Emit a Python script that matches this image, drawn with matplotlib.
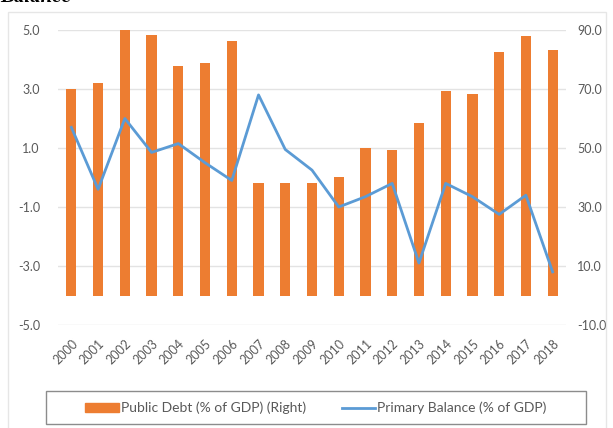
import numpy as np
import matplotlib
matplotlib.use('Agg')
import matplotlib.pyplot as plt
import matplotlib.patches as mpatches
import matplotlib.lines as mlines

years = [str(y) for y in range(2000, 2019)]
# public debt, % of GDP (right axis)
public_debt = [70.0, 72.1, 90.2, 88.3, 77.9, 78.7, 86.3, 38.0, 38.0, 38.0,
               40.2, 50.0, 49.3, 58.6, 69.4, 68.3, 82.4, 88.0, 83.2]
# primary balance, % of GDP (left axis)
primary_balance = [1.7, -0.4, 2.0, 0.85, 1.15, 0.5, -0.1, 2.8, 0.95, 0.25,
                   -1.0, -0.65, -0.2, -2.9, -0.2, -0.65, -1.25, -0.6, -3.2]

left_ticks = [-5.0, -3.0, -1.0, 1.0, 3.0, 5.0]
right_ticks = [-10.0, 10.0, 30.0, 50.0, 70.0, 90.0]

ORANGE = '#ED7D31'
BLUE = '#5B9BD5'
GREY_TXT = '#595959'

plt.rcParams['font.family'] = ['Lato', 'DejaVu Sans']

fig = plt.figure(figsize=(6.13, 4.28), dpi=100)
ax = fig.add_axes([58/613, 1 - 325/428, (566 - 58)/613, (325 - 30)/428])
ax2 = ax.twinx()

x = np.arange(len(years))

# bars on the right axis, drawn below the line
ax2.bar(x, public_debt, width=0.38, color=ORANGE, zorder=2)
ax2.set_ylim(-10, 90)
ax2.set_yticks(right_ticks)
ax2.set_yticklabels(['%.1f' % t for t in right_ticks])
ax2.grid(True, axis='y', color='#e3e3e3', lw=1, zorder=0)
ax2.set_axisbelow(True)

ax.plot(x, primary_balance, '-', color=BLUE, lw=2, zorder=3)
ax.set_ylim(-5, 5)
ax.set_yticks(left_ticks)
ax.set_yticklabels(['%.1f' % t for t in left_ticks])
ax.set_xlim(-0.5, len(years) - 0.5)
ax.set_xticks(x)
ax.set_xticklabels(years, rotation=45, ha='right', va='top',
                   rotation_mode='anchor')

ax.set_zorder(ax2.get_zorder() + 1)
ax.patch.set_visible(False)

for a in (ax, ax2):
    for s in a.spines.values():
        s.set_visible(False)
    a.tick_params(axis='both', which='both', length=0, labelsize=9,
                  labelcolor=GREY_TXT)
ax.tick_params(axis='y', pad=13)
ax.tick_params(axis='x', pad=9)
ax2.tick_params(axis='y', pad=8)

# outer chart frame
fig.patches.append(mpatches.Rectangle((8/613, -0.01), (606 - 8)/613, 1 - 12/428 + 0.01,
                                      transform=fig.transFigure, fill=False,
                                      edgecolor='#e6e6e6', lw=1))

# legend box
fig.patches.append(mpatches.Rectangle((46/613, 1 - 424/428), (586 - 46)/613, 33/428,
                                      transform=fig.transFigure, fill=False,
                                      edgecolor='#8c8c8c', lw=1))
orange_patch = mpatches.Patch(color=ORANGE, label='Public Debt (% of GDP) (Right)')
blue_line = mlines.Line2D([], [], lw=2, color=BLUE, label='Primary Balance (% of GDP)')
fig.legend(handles=[orange_patch, blue_line], loc='center',
           bbox_to_anchor=(316/613, 1 - 408/428), ncol=2, frameon=False,
           prop={'size': 10}, handlelength=2.4, handleheight=0.65,
           columnspacing=2.6, handletextpad=0.15, labelcolor=GREY_TXT)

# cropped title at the top
fig.text(0.0, 1 - 2/428, 'Balance', fontsize=15, fontweight='bold',
         fontstyle='italic', family='Liberation Serif', va='baseline', ha='left')

plt.savefig('out.png', dpi=100)
